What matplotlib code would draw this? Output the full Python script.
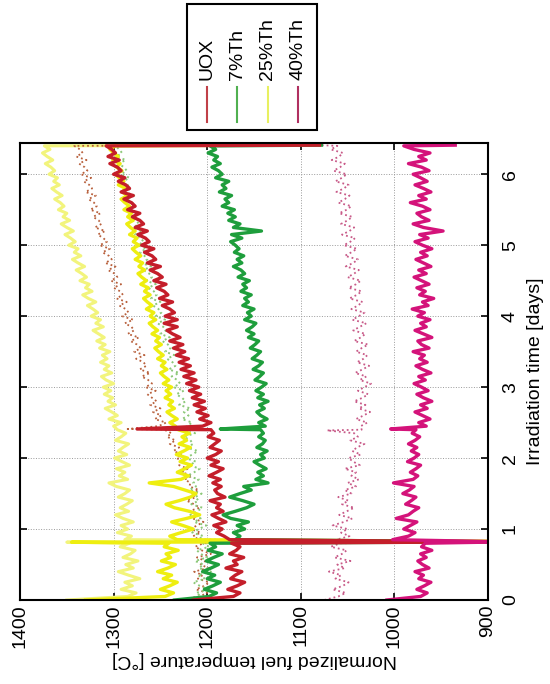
import numpy as np
import matplotlib

matplotlib.use("Agg")
import matplotlib.pyplot as plt
from matplotlib.lines import Line2D
from matplotlib.patches import Rectangle

plt.rcParams["font.family"] = ["Liberation Sans", "DejaVu Sans"]

# sampling grid of the traces [days]
days = np.round(np.arange(0, 6.401, 0.05), 2)

temp_ticks = [900, 1000, 1100, 1200, 1300, 1400]
day_ticks = [0, 1, 2, 3, 4, 5, 6]

legend_labels = ["UOX", "7%Th", "25%Th", "40%Th"]

# UOX, solid trace
uox_fuel = [
    1215,
    1172, 1165, 1178, 1168, 1160, 1175, 1170, 1163, 1180, 1168, 1172, 1161, 1176, 1169, 1165, 1174,
    1176, 1182, 1190, 1184, 1193, 1180, 1188, 1195, 1183, 1190, 1186, 1197, 1181, 1189, 1192, 1185,
    1194, 1186, 1198, 1190, 1183, 1196, 1188, 1200, 1191, 1185, 1197, 1192, 1187, 1199, 1193, 1196,
    1205, 1196, 1208, 1199, 1211, 1202, 1214, 1203, 1216, 1207,
    1219, 1209, 1222, 1212, 1225, 1214, 1228, 1218, 1230, 1220,
    1233, 1224, 1236, 1226, 1240, 1229, 1237, 1243, 1232, 1246,
    1232, 1245, 1235, 1240, 1248, 1237, 1251, 1242, 1246, 1254,
    1244, 1257, 1248, 1253, 1261, 1250, 1264, 1255, 1259, 1267,
    1257, 1270, 1262, 1266, 1274, 1264, 1277, 1268, 1272, 1280,
    1272, 1285, 1277, 1281, 1289, 1279, 1292, 1283, 1287, 1295,
    1288, 1300, 1292, 1296, 1304, 1294, 1306, 1298, 1302, 1308,
]
uox_spikes = [(0.82, 880), (2.41, 1275), (6.41, 1080)]

# UOX, dotted trace
uox_other = [
    1230,
    1208, 1200, 1212, 1203, 1198, 1210, 1205, 1214, 1199, 1207, 1202, 1211, 1196, 1206, 1213, 1204,
    1209, 1215, 1207, 1218, 1211, 1204, 1216, 1210, 1220, 1208, 1214, 1222, 1212, 1217, 1209, 1219,
    1218, 1224, 1216, 1227, 1221, 1230, 1224, 1233, 1227, 1236, 1230, 1240, 1234, 1243, 1238, 1246,
    1252, 1244, 1256, 1249, 1258, 1250, 1261, 1254, 1259, 1264,
    1255, 1266, 1259, 1263, 1270, 1261, 1272, 1265, 1268, 1276,
    1267, 1278, 1271, 1275, 1282, 1273, 1285, 1278, 1281, 1288,
    1279, 1291, 1284, 1287, 1294, 1286, 1297, 1290, 1293, 1300,
    1292, 1303, 1296, 1299, 1306, 1298, 1309, 1302, 1305, 1312,
    1304, 1315, 1307, 1311, 1317, 1309, 1320, 1313, 1316, 1322,
    1314, 1325, 1318, 1321, 1327, 1319, 1330, 1323, 1326, 1332,
    1324, 1335, 1328, 1331, 1337, 1329, 1340, 1333, 1336, 1342,
]
uox_other_spikes = [(0.82, 890), (2.41, 1285), (6.41, 1100)]

# 7%Th, solid trace
th7_fuel = [
    1235,
    1198, 1190, 1203, 1194, 1186, 1200, 1192, 1205, 1196, 1188, 1201, 1193, 1184, 1199, 1191, 1197,
    1170, 1165, 1172, 1160, 1168, 1156, 1175, 1183, 1170, 1158, 1150, 1162, 1176, 1165, 1153, 1161,
    1135, 1148, 1140, 1146, 1137, 1144, 1150, 1139, 1143, 1136, 1147, 1141, 1138, 1145, 1140, 1143,
    1138, 1145, 1136, 1143, 1147, 1139, 1144, 1135, 1146, 1140,
    1148, 1142, 1137, 1149, 1144, 1140, 1151, 1145, 1141, 1152,
    1147, 1143, 1154, 1149, 1145, 1156, 1150, 1158, 1152, 1148,
    1160, 1153, 1157, 1150, 1162, 1156, 1160, 1153, 1164, 1158,
    1162, 1155, 1167, 1160, 1164, 1172, 1163, 1168, 1161, 1171,
    1166, 1170, 1175, 1163, 1174, 1142, 1172, 1165, 1177, 1170,
    1178, 1171, 1184, 1177, 1181, 1174, 1187, 1180, 1184, 1177,
    1191, 1184, 1188, 1195, 1186, 1193, 1189, 1199, 1191, 1197,
]
th7_spikes = [(0.82, 880), (2.41, 1186), (6.41, 1078)]

# 7%Th, dotted trace
th7_other = [
    1225,
    1206, 1212, 1199, 1208, 1215, 1202, 1210, 1196, 1209, 1204, 1213, 1200, 1207, 1211, 1198, 1205,
    1210, 1204, 1216, 1209, 1201, 1214, 1207, 1218, 1211, 1205, 1217, 1209, 1213, 1206, 1219, 1212,
    1215, 1209, 1221, 1214, 1208, 1219, 1212, 1223, 1216, 1210, 1222, 1215, 1218, 1225, 1213, 1220,
    1222, 1216, 1227, 1220, 1225, 1218, 1230, 1223, 1227, 1233,
    1225, 1236, 1229, 1232, 1238, 1230, 1241, 1234, 1237, 1243,
    1235, 1245, 1239, 1242, 1248, 1240, 1250, 1244, 1247, 1253,
    1245, 1255, 1249, 1252, 1258, 1250, 1260, 1254, 1257, 1263,
    1255, 1265, 1259, 1262, 1268, 1260, 1270, 1264, 1267, 1272,
    1265, 1274, 1268, 1271, 1277, 1269, 1279, 1273, 1276, 1281,
    1274, 1283, 1277, 1280, 1286, 1278, 1288, 1282, 1285, 1290,
    1283, 1292, 1286, 1289, 1295, 1287, 1297, 1291, 1294, 1298,
]
th7_other_spikes = [(0.82, 885), (6.41, 1120)]

# 25%Th, solid trace
th25_fuel = [
    1330,
    1245, 1236, 1250, 1240, 1232, 1247, 1238, 1253, 1242, 1234, 1249, 1239, 1244, 1231, 1246, 1241,
    1232, 1240, 1228, 1215, 1226, 1238, 1222, 1208, 1219, 1235, 1244, 1230, 1218, 1212, 1224, 1236,
    1262, 1228, 1220, 1232, 1224, 1217, 1229, 1221, 1233, 1225, 1218, 1230, 1222, 1227, 1219, 1231,
    1234, 1240, 1232, 1238, 1243, 1235, 1241, 1237, 1245, 1239,
    1244, 1238, 1247, 1241, 1246, 1250, 1243, 1249, 1245, 1253,
    1247, 1252, 1256, 1249, 1255, 1251, 1259, 1253, 1258, 1262,
    1255, 1261, 1257, 1265, 1259, 1264, 1268, 1261, 1267, 1263,
    1271, 1265, 1270, 1274, 1267, 1273, 1269, 1277, 1271, 1276,
    1280, 1273, 1279, 1275, 1283, 1277, 1282, 1286, 1279, 1285,
    1281, 1289, 1283, 1288, 1292, 1285, 1291, 1287, 1295, 1289,
    1294, 1298, 1291, 1297, 1293, 1301, 1295, 1300, 1304, 1298,
]
th25_spikes = [(0.815, 1345), (0.825, 880), (6.41, 1140)]

# 25%Th, light trace
th25_other = [
    1350,
    1285, 1276, 1292, 1280, 1288, 1272, 1284, 1295, 1279, 1287, 1274, 1290, 1282, 1277, 1293, 1283,
    1288, 1281, 1296, 1285, 1292, 1279, 1290, 1298, 1284, 1293, 1286, 1280, 1295, 1288, 1283, 1297,
    1305, 1285, 1294, 1288, 1297, 1283, 1291, 1299, 1286, 1295, 1290, 1284, 1298, 1292, 1287, 1296,
    1300, 1292, 1305, 1296, 1302, 1309, 1298, 1306, 1301, 1310,
    1303, 1311, 1300, 1308, 1313, 1302, 1310, 1305, 1314, 1307,
    1312, 1304, 1315, 1309, 1318, 1310, 1316, 1322, 1311, 1319,
    1314, 1324, 1317, 1322, 1328, 1319, 1327, 1333, 1323, 1330,
    1326, 1336, 1329, 1334, 1340, 1331, 1338, 1344, 1335, 1342,
    1338, 1348, 1341, 1346, 1352, 1343, 1350, 1356, 1347, 1354,
    1350, 1359, 1353, 1357, 1363, 1355, 1361, 1366, 1358, 1364,
    1360, 1369, 1363, 1367, 1373, 1365, 1371, 1376, 1368, 1374,
]
th25_other_spikes = [(0.815, 1350), (0.825, 890), (6.41, 1150)]

# 40%Th, solid trace
th40_fuel = [
    1008,
    972, 965, 976, 968, 961, 974, 969, 978, 963, 970, 975, 966, 972, 960, 971, 967,
    1002, 985, 978, 990, 983, 976, 998, 985, 980, 974, 988, 982, 977, 991, 984, 979,
    1001, 980, 975, 983, 977, 972, 986, 979, 974, 982, 976, 985, 978, 973, 981, 977,
    966, 974, 962, 970, 978, 965, 972, 960, 969, 976,
    964, 971, 979, 967, 974, 961, 970, 977, 965, 973,
    968, 980, 963, 971, 975, 960, 969, 978, 966, 972,
    962, 975, 968, 981, 964, 970, 958, 973, 967, 976,
    963, 971, 979, 966, 974, 961, 969, 977, 965, 972,
    960, 970, 978, 964, 973, 948, 969, 980, 963, 971,
    976, 962, 970, 983, 966, 974, 961, 969, 978, 965,
    972, 980, 963, 971, 985, 966, 974, 962, 979, 990,
]
th40_spikes = [(0.82, 880), (2.41, 1004), (6.41, 935)]

# 40%Th, dotted trace
th40_other = [
    1075,
    1060, 1052, 1066, 1055, 1049, 1063, 1057, 1070, 1053, 1061, 1047, 1064, 1056, 1051, 1068, 1058,
    1062, 1048, 1057, 1050, 1066, 1054, 1045, 1059, 1051, 1043, 1056, 1049, 1060, 1046, 1053, 1041,
    1050, 1038, 1046, 1041, 1053, 1037, 1044, 1049, 1036, 1045, 1040, 1032, 1047, 1039, 1043, 1035,
    1036, 1029, 1041, 1033, 1026, 1038, 1031, 1043, 1034, 1028,
    1039, 1032, 1025, 1037, 1030, 1042, 1034, 1027, 1040, 1033,
    1029, 1041, 1035, 1028, 1043, 1036, 1031, 1044, 1037, 1030,
    1045, 1038, 1032, 1046, 1039, 1034, 1048, 1040, 1035, 1049,
    1041, 1036, 1050, 1043, 1038, 1052, 1044, 1039, 1053, 1046,
    1040, 1054, 1047, 1042, 1056, 1048, 1043, 1057, 1050, 1045,
    1059, 1051, 1046, 1060, 1053, 1048, 1062, 1054, 1049, 1063,
    1056, 1051, 1065, 1058, 1053, 1067, 1059, 1055, 1068, 1061,
]
th40_other_spikes = [(0.82, 890), (2.39, 1072), (6.41, 1080)]


def with_spikes(values, spikes):
    t = np.concatenate([days, [s[0] for s in spikes]])
    v = np.concatenate([np.asarray(values, float), [s[1] for s in spikes]])
    order = np.argsort(t, kind="stable")
    return t[order], v[order]


fig = plt.figure(figsize=(5.5, 6.84), dpi=100)
ax = fig.add_axes([0.0364, 0.1228, 0.8509, 0.6681])

traces = [
    (th25_other, th25_other_spikes, "#f2f47c", 2.2, "-"),
    (th40_other, th40_other_spikes, "#c85a88", 1.3, ":"),
    (uox_other, uox_other_spikes, "#b8603c", 1.3, ":"),
    (th7_other, th7_other_spikes, "#8cc878", 1.4, ":"),
    (th25_fuel, th25_spikes, "#eeee10", 2.4, "-"),
    (th7_fuel, th7_spikes, "#1e9e3c", 2.4, "-"),
    (uox_fuel, uox_spikes, "#c41e2a", 2.4, "-"),
    (th40_fuel, th40_spikes, "#d4137a", 2.4, "-"),
]
for values, spikes, color, lw, ls in traces:
    t, v = with_spikes(values, spikes)
    ax.plot(v, t, color=color, lw=lw, ls=ls)

# the page is turned: temperature runs along the bottom, time up the right side
ax.set_xlim(1400, 900)
ax.set_ylim(0, 6.44)
ax.set_xticks(temp_ticks)
ax.set_yticks(day_ticks)
ax.grid(True, color="#9a9a9a", ls=":", lw=0.7)
for spine in ax.spines.values():
    spine.set_linewidth(1.5)

ax.tick_params(direction="in", length=5, width=1.2, labelsize=14,
               top=True, bottom=True, left=True, right=True)
ax.tick_params(axis="x", labelrotation=90, pad=3)
ax.tick_params(axis="y", labelleft=False, labelright=True, labelrotation=90, pad=10)
for lbl in ax.get_yticklabels():
    lbl.set_verticalalignment("center")

ax.set_xlabel("Normalized fuel temperature [°C]", rotation=180, fontsize=14, labelpad=2)
ax.yaxis.set_label_position("right")
ax.set_ylabel("Irradiation time [days]", rotation=90, fontsize=14, labelpad=6)

# legend box, turned with the page
legend_colors = ["#c04048", "#50b050", "#e8f060", "#b03060"]
fig.add_artist(Rectangle((0.340, 0.810), 0.236, 0.184, transform=fig.transFigure,
                         facecolor="white", edgecolor="black", lw=1.5))
for i, (label, color) in enumerate(zip(legend_labels, legend_colors)):
    xc = (207 + 30.3 * i) / 550
    fig.add_artist(Line2D([xc, xc], [1 - 122 / 684, 1 - 87 / 684],
                          transform=fig.transFigure, color=color, lw=1.5))
    fig.text(xc, 1 - 80 / 684, label, rotation=90, ha="center", va="bottom", fontsize=14)

fig.savefig("out.png", dpi=100)
